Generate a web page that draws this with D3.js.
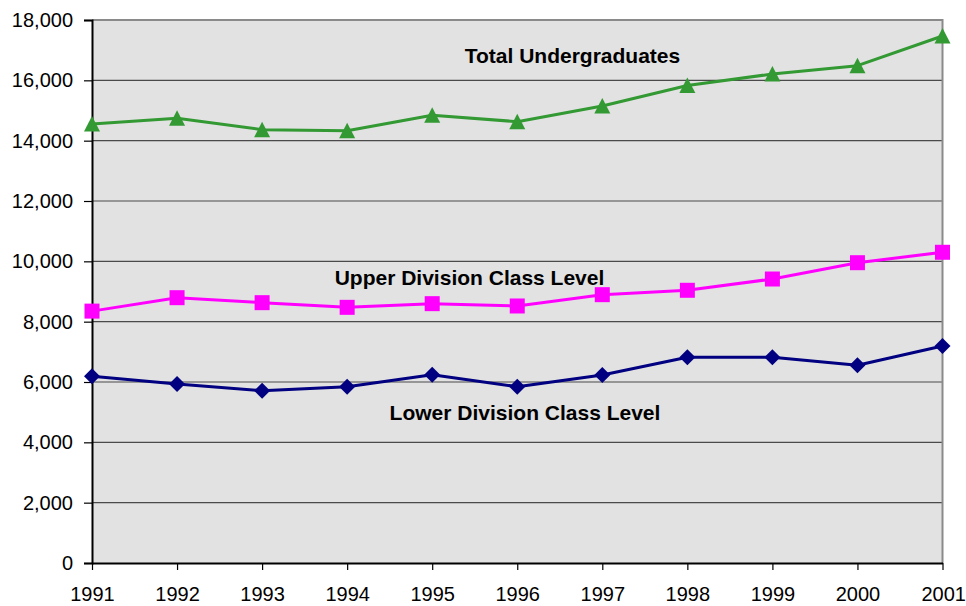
<!DOCTYPE html>
<html>
<head>
<meta charset="utf-8">
<script src="https://cdn.jsdelivr.net/npm/d3@7"></script>
<style>
  html, body { margin: 0; padding: 0; background: #fff; }
  svg { display: block; font-family: "Liberation Sans", Arial, sans-serif; }
</style>
</head>
<body>
<div id="viz"></div>
<script>
const years = [1991, 1992, 1993, 1994, 1995, 1996, 1997, 1998, 1999, 2000, 2001];
const totalUndergrad = [14550, 14740, 14365, 14330, 14840, 14630, 15150, 15830, 16210, 16485, 17470];
const upperDivision = [8350, 8795, 8630, 8475, 8597, 8520, 8895, 9040, 9414, 9955, 10300];
const lowerDivision = [6190, 5934, 5712, 5845, 6243, 5845, 6232, 6818, 6818, 6553, 7193];
const yTicks = [0, 2000, 4000, 6000, 8000, 10000, 12000, 14000, 16000, 18000];

const width = 966, height = 606;
const plotLeft = 92, plotRight = 942.5, plotTop = 20, plotBottom = 563;

const svg = d3.select('#viz').append('svg')
  .attr('width', width)
  .attr('height', height);

const x = d3.scaleLinear().domain([1991, 2001]).range([plotLeft, plotRight]);
const y = d3.scaleLinear().domain([0, 18000]).range([plotBottom, plotTop]);

// plot background
svg.append('rect')
  .attr('x', plotLeft).attr('y', plotTop)
  .attr('width', plotRight - plotLeft).attr('height', plotBottom - plotTop)
  .attr('fill', '#e2e2e2');

// gridlines
svg.append('g').selectAll('line')
  .data(yTicks.filter(d => d > 0 && d < 18000))
  .join('line')
  .attr('x1', plotLeft).attr('x2', plotRight)
  .attr('y1', d => y(d)).attr('y2', d => y(d))
  .attr('stroke', '#4a4a4a')
  .attr('stroke-width', 1.2);

// top / right border
svg.append('path')
  .attr('d', `M${plotLeft},${y(18000)}H${plotRight}V${plotBottom}`)
  .attr('fill', 'none')
  .attr('stroke', '#8a8a8a')
  .attr('stroke-width', 2);

// y axis
const yAxis = svg.append('g')
  .attr('transform', `translate(${plotLeft},0)`)
  .call(d3.axisLeft(y).tickValues(yTicks).tickFormat(d3.format(',')).tickSize(8).tickPadding(11));
yAxis.select('.domain').attr('stroke', '#000').attr('stroke-width', 2);
yAxis.selectAll('.tick line').attr('stroke', '#000').attr('stroke-width', 1.2);
yAxis.selectAll('text')
  .attr('font-family', '"Liberation Sans", Arial, sans-serif')
  .attr('font-size', 20)
  .attr('fill', '#000');

// x axis
const xAxis = svg.append('g')
  .attr('transform', `translate(0,${plotBottom})`)
  .call(d3.axisBottom(x).tickValues(years).tickFormat(d3.format('d')).tickSize(7).tickSizeOuter(0));
xAxis.select('.domain').attr('stroke', '#000').attr('stroke-width', 2);
xAxis.selectAll('.tick line').attr('stroke', '#000').attr('stroke-width', 1.2);
xAxis.selectAll('text')
  .attr('dy', null)
  .attr('y', 38)
  .attr('font-family', '"Liberation Sans", Arial, sans-serif')
  .attr('font-size', 20)
  .attr('fill', '#000');
// last year label would run past the right edge
xAxis.selectAll('.tick').filter(d => d === 2001).select('text')
  .attr('text-anchor', 'end')
  .attr('x', 23);

const line = d3.line().x((d, i) => x(years[i])).y(d => y(d));

function drawSeries(values, color, marker) {
  const g = svg.append('g');
  g.append('path')
    .datum(values)
    .attr('d', line)
    .attr('fill', 'none')
    .attr('stroke', color)
    .attr('stroke-width', 3)
    .attr('stroke-linejoin', 'round');
  g.selectAll('path.m')
    .data(values)
    .join('path')
    .attr('class', 'm')
    .attr('transform', (d, i) => `translate(${x(years[i])},${y(d)})`)
    .attr('d', marker)
    .attr('fill', color);
}

const triangle = 'M0,-8L8,7.5L-8,7.5Z';
const square = 'M-7.5,-7.5H7.5V7.5H-7.5Z';
const diamond = 'M0,-8L8,0L0,8L-8,0Z';

drawSeries(lowerDivision, '#000080', diamond);
drawSeries(upperDivision, '#ff00ff', square);
drawSeries(totalUndergrad, '#339933', triangle);

// series labels
const labels = [
  { text: 'Total Undergraduates', x: 572.5, y: 63 },
  { text: 'Upper Division Class Level', x: 469.5, y: 285 },
  { text: 'Lower Division Class Level', x: 525, y: 420 }
];
svg.append('g').selectAll('text')
  .data(labels)
  .join('text')
  .attr('x', d => d.x)
  .attr('y', d => d.y)
  .attr('text-anchor', 'middle')
  .attr('font-size', 21)
  .attr('font-weight', 'bold')
  .attr('fill', '#000')
  .text(d => d.text);
</script>
</body>
</html>
